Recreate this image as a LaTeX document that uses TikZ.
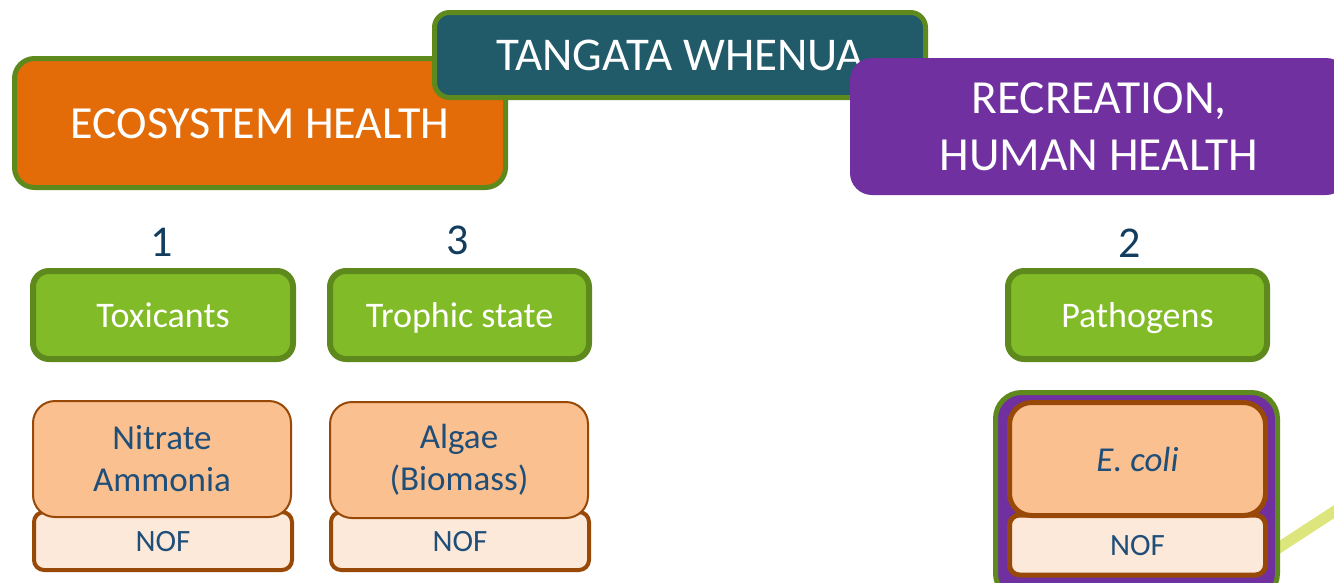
\documentclass[tikz,border=0pt]{standalone}
\usepackage{fontspec}
\setmainfont{Carlito}
\usetikzlibrary{positioning}

\definecolor{ecoorange}{HTML}{E36C09}
\definecolor{twteal}{HTML}{215A69}
\definecolor{recpurple}{HTML}{7030A0}
\definecolor{rimgreen}{HTML}{5E8A1D}
\definecolor{catgreen}{HTML}{82BB28}
\definecolor{attrpeach}{HTML}{FAC090}
\definecolor{attrbrown}{HTML}{984807}
\definecolor{nofpink}{HTML}{FDE9D9}
\definecolor{boxtext}{HTML}{1F4E79}
\definecolor{numblue}{HTML}{123D5E}
\definecolor{linkyellow}{HTML}{DDE67C}

\begin{document}
\begin{tikzpicture}[
    x=1pt, y=-1pt,
    every node/.style={inner sep=0pt, align=center},
    head/.style={rounded corners=20pt, text=white, font=\fontsize{46}{57}\selectfont},
    rimhead/.style={head, draw=rimgreen, line width=5pt, text height=30pt, text depth=0pt},
    numlabel/.style={text=numblue, font=\fontsize{44}{50}\selectfont},
    catbox/.style={fill=catgreen, draw=rimgreen, line width=6pt, rounded corners=16pt,
        minimum width=260pt, minimum height=88pt, text=white, font=\fontsize{36}{42}\selectfont,
        text height=25pt, text depth=1pt},
    attrbox/.style={fill=attrpeach, draw=attrbrown, line width=2pt, rounded corners=22pt,
        minimum width=258pt, minimum height=116pt, text=boxtext, font=\fontsize{35}{42}\selectfont},
    nofbox/.style={fill=nofpink, draw=attrbrown, line width=4pt, rounded corners=10pt,
        minimum width=258pt, minimum height=58pt, text=boxtext, font=\fontsize{31}{36}\selectfont,
        text height=20pt, text depth=0pt},
    link/.style={draw=linkyellow, line width=11pt}
]
    \useasboundingbox (0,0) rectangle (1334,582);
    \clip (0,0) rectangle (1334,582);

    % heading boxes (back to front)
    \node[rimhead, fill=ecoorange, minimum width=491pt, minimum height=129pt] (eco) at (260,123) {ECOSYSTEM HEALTH};
    \node[rimhead, fill=twteal, rounded corners=15pt, minimum width=491pt, minimum height=85pt,
        font=\fontsize{47}{57}\selectfont] (tw) at (680,55) {TANGATA WHENUA};
    \node[head, fill=recpurple, rounded corners=22pt, minimum width=498pt, minimum height=137pt,
        font=\fontsize{47.5}{57}\selectfont] (rec) at (1099,126.5) {RECREATION,\\HUMAN HEALTH};

    % priority numbers
    \node[numlabel] (n1) at (162,242) {1};
    \node[numlabel] (n3) at (458,240) {3};
    \node[numlabel] (n2) at (1130,243) {2};

    % value groups
    \node[catbox] (tox) at (163,315) {Toxicants};
    \node[catbox, minimum width=259pt] (tro) at (459.5,315) {Trophic state};
    \node[catbox, minimum width=259pt] (pat) at (1137.5,315) {Pathogens};

    % attributes with NOF strips
    \node[nofbox] (nof1) at (163,541) {NOF};
    \node[attrbox] (nit) at (162,459) {Nitrate\\Ammonia};
    \node[nofbox] (nof3) at (460,541) {NOF};
    \node[attrbox] (alg) at (459,460) {Algae\\(Biomass)};

    % link running under the E. coli group
    \coordinate (linkA) at (1352,500);
    \coordinate (linkB) at (1220,586);
    \draw[link] (linkA) -- (linkB);

    % E. coli group
    \node[fill=recpurple, draw=rimgreen, line width=5pt, rounded corners=26pt,
        minimum width=282pt, minimum height=207pt] (ecgroup) at (1136.5,496) {};
    \node[nofbox, line width=5pt, minimum width=256pt, minimum height=60pt] (nof2) at (1137.5,545) {NOF};
    \node[attrbox, line width=5pt, minimum width=256pt, minimum height=113pt] (eco2) at (1137.5,459) {\itshape E. coli};
\end{tikzpicture}
\end{document}
